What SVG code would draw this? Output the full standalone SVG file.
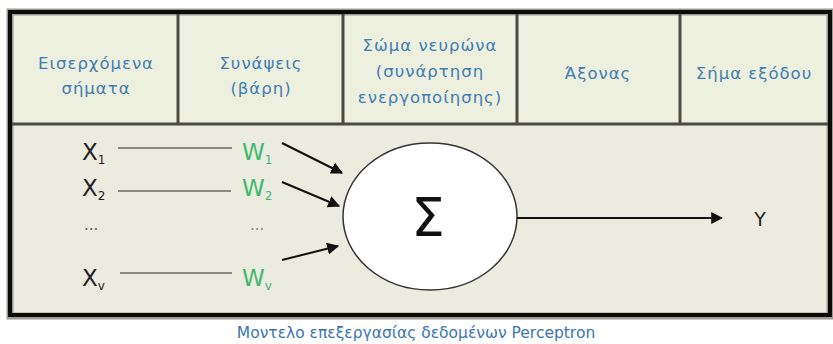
<svg xmlns="http://www.w3.org/2000/svg" width="833" height="344" viewBox="0 0 833 344">
<style>
.hdr{font-family:"DejaVu Sans","Noto Sans",sans-serif;font-size:16.5px;letter-spacing:1px;fill:#3f7db2;text-anchor:middle}
.xl{font-family:"DejaVu Sans","Noto Sans",sans-serif;font-size:23px;fill:#222}
.wl{font-family:"DejaVu Sans","Noto Sans",sans-serif;font-size:23px;fill:#3dba6a}
.sub{font-size:12px}
.div{stroke:#4b4b42;stroke-width:3}
.conn{stroke:#111;stroke-width:2;fill:none}
.thin{stroke:#8a8a80;stroke-width:2;fill:none}
</style>
<defs>
<marker id="ah" viewBox="0 0 10 10" refX="9" refY="5" markerWidth="6" markerHeight="6" orient="auto" markerUnits="strokeWidth">
<path d="M0,0 L10,5 L0,10 z" fill="#111"/>
</marker>
</defs>
<rect width="833" height="344" fill="#fff"/>
<g id="frame">
<rect x="10" y="12" width="820" height="304" fill="#ecebe0" stroke="#9a9a92" stroke-width="7"/>
<rect x="10" y="12" width="820" height="303" fill="none" stroke="#0a0a0a" stroke-width="4"/>
<rect x="14" y="16" width="812" height="106" fill="#eef0df"/>
<line class="div" x1="12" y1="124" x2="828" y2="124"/>
<line class="div" x1="178" y1="14" x2="178" y2="124"/>
<line class="div" x1="343" y1="14" x2="343" y2="124"/>
<line class="div" x1="517" y1="14" x2="517" y2="124"/>
<line class="div" x1="680" y1="14" x2="680" y2="124"/>
</g>
<g id="h1"><text class="hdr" x="96" y="69">Εισερχόμενα</text><text class="hdr" x="96" y="94">σήματα</text></g>
<g id="h2"><text class="hdr" x="261" y="69">Συνάψεις</text><text class="hdr" x="261" y="94">(βάρη)</text></g>
<g id="h3"><text class="hdr" x="430" y="51">Σώμα νευρώνα</text><text class="hdr" x="430" y="77">(συνάρτηση</text><text class="hdr" x="430" y="103">ενεργοποίησης)</text></g>
<g id="h4"><text class="hdr" x="598" y="79">Άξονας</text></g>
<g id="h5"><text class="hdr" x="754" y="79">Σήμα εξόδου</text></g>
<g id="inputs">
<text class="xl" x="82" y="160">X<tspan class="sub" dy="4">1</tspan></text>
<text class="xl" x="82" y="196">X<tspan class="sub" dy="4">2</tspan></text>
<text class="xl" x="84" y="230" style="font-size:15px;fill:#555">...</text>
<text class="xl" x="82" y="286">X<tspan class="sub" dy="4">v</tspan></text>
</g>
<g id="weights">
<text class="wl" x="242" y="160">W<tspan class="sub" dy="4">1</tspan></text>
<text class="wl" x="242" y="196">W<tspan class="sub" dy="4">2</tspan></text>
<text class="xl" x="250" y="230" style="font-size:15px;fill:#888">...</text>
<text class="wl" x="242" y="286">W<tspan class="sub" dy="4">v</tspan></text>
</g>
<g id="neuron">
<ellipse cx="430" cy="216.5" rx="87" ry="73.5" fill="#fff" stroke="#333" stroke-width="1.5"/>
<text x="428" y="236" style="font-family:'DejaVu Sans',sans-serif;font-size:53px;fill:#111;text-anchor:middle">Σ</text>
</g>
<g id="output"><text x="760" y="226" style="font-family:'DejaVu Sans',sans-serif;font-size:19px;fill:#222;text-anchor:middle">Y</text></g>
<g id="connectors">
<line class="thin" x1="118" y1="148" x2="232" y2="148"/>
<line class="thin" x1="118" y1="191" x2="231" y2="191"/>
<line class="thin" x1="120" y1="273" x2="232" y2="273"/>
<line class="conn" x1="282" y1="143" x2="342" y2="173" marker-end="url(#ah)"/>
<line class="conn" x1="282" y1="182" x2="339" y2="206" marker-end="url(#ah)"/>
<line class="conn" x1="282" y1="260" x2="338" y2="246" marker-end="url(#ah)"/>
<line class="conn" x1="517" y1="218" x2="722" y2="218" marker-end="url(#ah)"/>
</g>
<text x="416" y="338" style="font-family:'DejaVu Sans',sans-serif;font-size:15.5px;fill:#3a76b0;text-anchor:middle">Μοντελο επεξεργασίας δεδομένων Perceptron</text>
</svg>
